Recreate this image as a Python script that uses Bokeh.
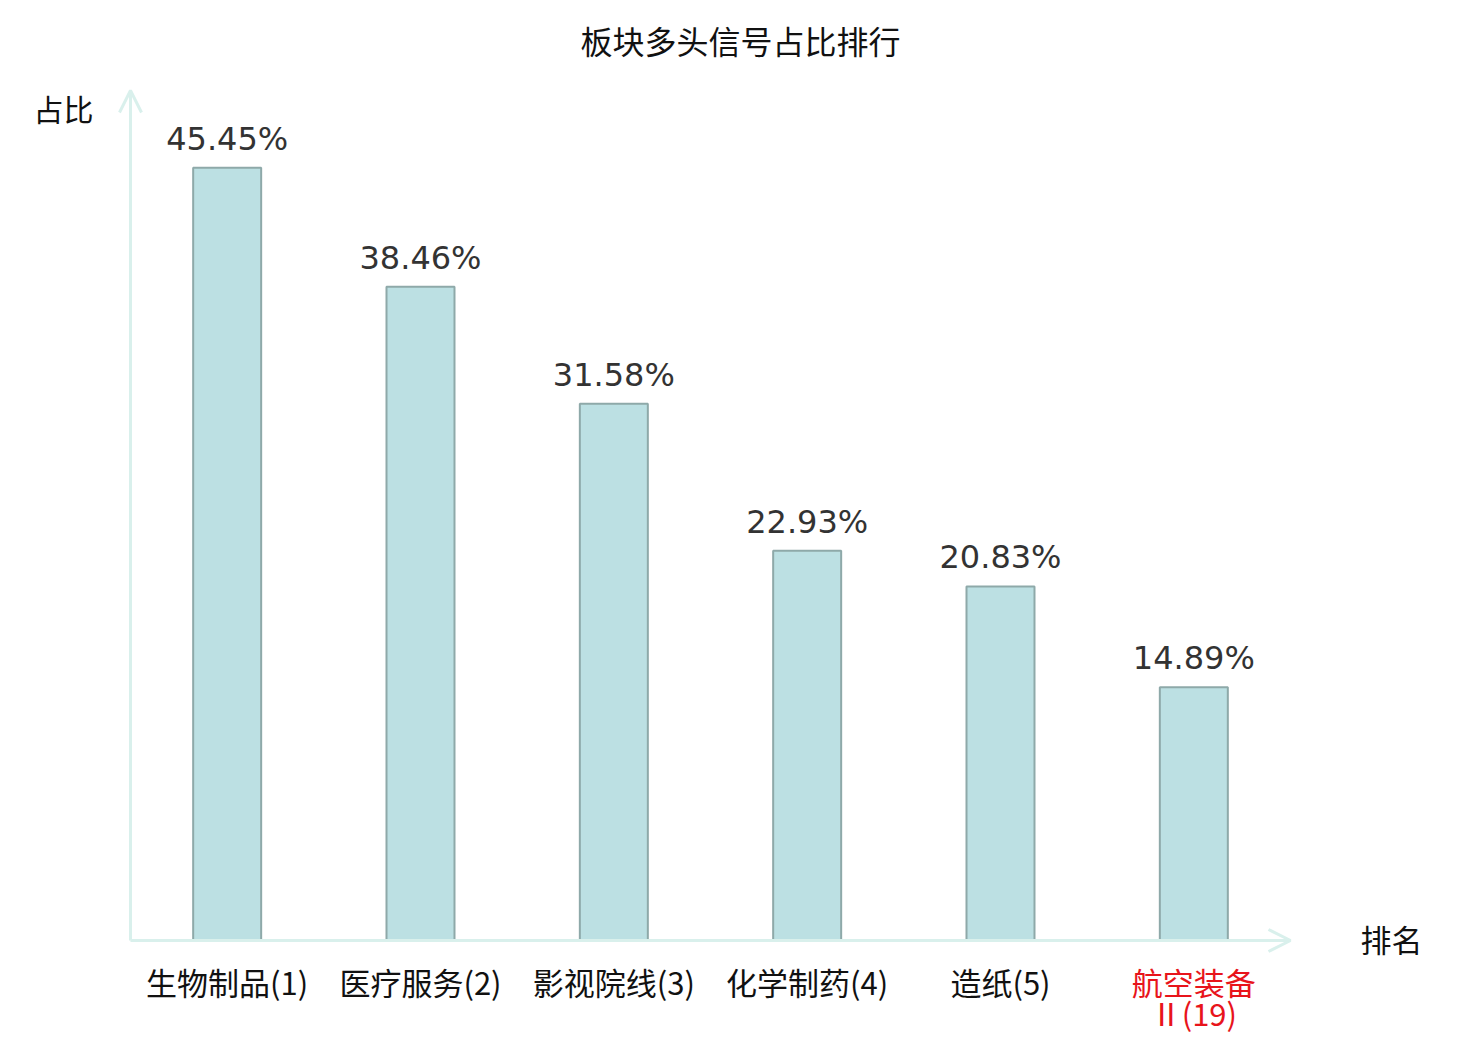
from bokeh.plotting import figure
from bokeh.models import Range1d, Arrow, OpenHead, ColumnDataSource
from bokeh.core.properties import value
from bokeh.embed import file_html
from bokeh.resources import INLINE

# ---- data ----
categories = ["生物制品(1)", "医疗服务(2)", "影视院线(3)", "化学制药(4)", "造纸(5)", "航空装备\nⅡ(19)"]
shares = [45.45, 38.46, 31.58, 22.93, 20.83, 14.89]
value_labels = ["45.45%", "38.46%", "31.58%", "22.93%", "20.83%", "14.89%"]
label_colors = ["#111111", "#111111", "#111111", "#111111", "#111111", "#e8141b"]
title_text = "板块多头信号占比排行"
y_name = "占比"
x_name = "排名"

# ---- geometry (page pixels -> data) ----
W, H = 1472, 1036
OFF = 0
PX_X = 193.333   # pixels per category
PX_Y = 17.0      # pixels per percent
X0, Y0 = 130, 940  # page pixel of origin
def dx(px): return (px - X0) / PX_X
def dy(py): return (Y0 - py) / PX_Y

p = figure(width=W, height=H, output_backend="svg", toolbar_location=None,
           x_range=Range1d(dx(OFF), dx(OFF + W)), y_range=Range1d(dy(OFF + H), dy(OFF)),
           x_axis_location=None, y_axis_location=None, min_border=0)
p.outline_line_color = None
p.xgrid.visible = False
p.ygrid.visible = False
p.background_fill_color = "white"
p.border_fill_color = "white"

xs = [i + 0.5 for i in range(len(categories))]
line1 = [c.split("\n")[0] for c in categories]
line2 = [c.split("\n")[1] if "\n" in c else "" for c in categories]
src = ColumnDataSource(dict(x=xs, top=shares, lab=value_labels, l1=line1, l2=line2, col=label_colors,
                            ly=[s + 29 / PX_Y for s in shares],
                            cy1=[dy(958)] * len(categories),
                            cy2=[dy(989)] * len(categories)))

# axes arrows
axis_col = "#d9f0ec"
for xe, ye in [(len(categories), 0), (0, 50)]:
    p.add_layout(Arrow(end=OpenHead(size=22, line_color=axis_col, line_width=3),
                       x_start=0, y_start=0, x_end=xe, y_end=ye,
                       line_color=axis_col, line_width=3))

p.vbar(x="x", top="top", bottom=0, width=68 / PX_X, source=src,
       fill_color="#bce0e3", line_color="#8ea9a9", line_width=2)

p.text(x="x", y="ly", text="lab", source=src, text_align="center", text_baseline="middle",
       text_font=value("DejaVu Sans"), text_font_size="32px", text_color="#333333")

cat_font = value("'DejaVu Sans ExtraLight', 'Noto Sans CJK SC'")
for col in ["l1", "l2"]:
    p.text(x="x", y="cy1" if col == "l1" else "cy2", text=col, source=src,
           text_align="center", text_baseline="top",
           text_font=cat_font, text_font_size="31px", text_color="col")

p.text(x=[dx(740)], y=[dy(39)], text=[title_text], text_align="center", text_baseline="middle",
       text_font=value("Noto Sans CJK SC"), text_font_size="32px", text_color="#111111")
p.text(x=[dx(63)], y=[dy(107)], text=[y_name], text_align="center", text_baseline="middle",
       text_font=value("Noto Sans CJK SC"), text_font_size="30px", text_color="#111111")
p.text(x=[dx(1391)], y=[dy(938)], text=[x_name], text_align="center", text_baseline="middle",
       text_font=value("Noto Sans CJK SC"), text_font_size="31px", text_color="#111111")

open("out.html", "w").write(file_html(p, INLINE))
